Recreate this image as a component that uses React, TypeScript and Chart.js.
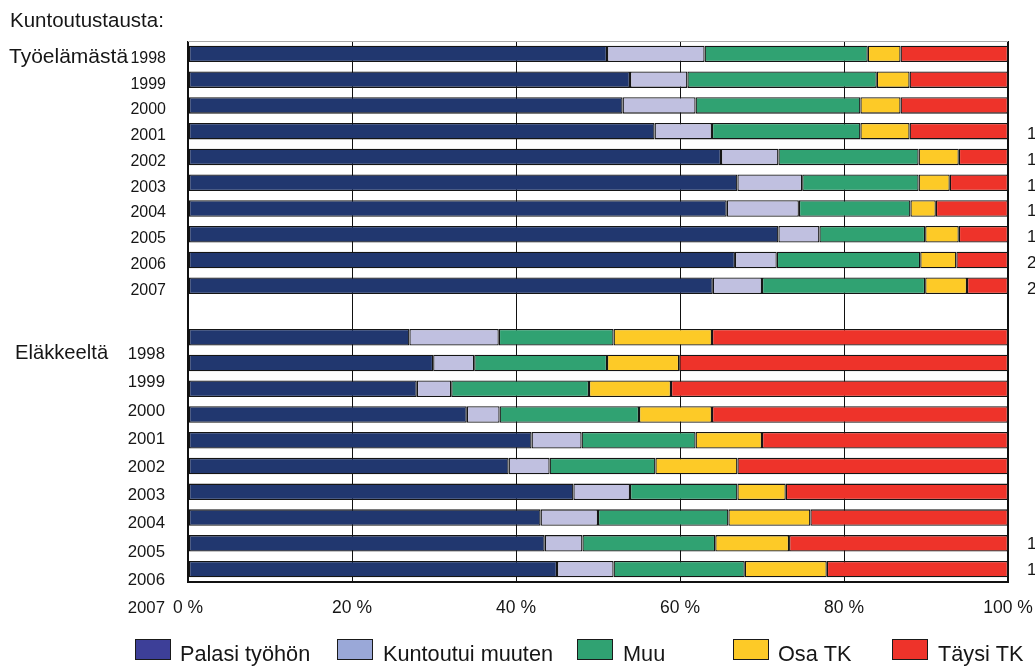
import React, { useEffect, useRef } from 'react';
import { Chart, registerables } from 'chart.js';

Chart.register(...registerables);

// ---------- data ----------
const titleText = 'Kuntoutustausta:';
const groupNames = ['Työelämästä', 'Eläkkeeltä'];
const years = ['1998', '1999', '2000', '2001', '2002', '2003', '2004', '2005', '2006', '2007'];
const categories = [
  ...years.map((y) => `${groupNames[0]} ${y}`),
  '',
  ...years.map((y) => `${groupNames[1]} ${y}`),
];
const seriesNames = ['Palasi työhön', 'Kuntoutui muuten', 'Muu', 'Osa TK', 'Täysi TK'];

// Työelämästä 1998–2007 (%)
const palasiTyo = [51.1, 53.9, 53.0, 56.9, 65.0, 67.0, 65.7, 72.0, 66.7, 64.0];
const kuntoutuiTyo = [11.9, 7.0, 8.9, 7.0, 7.0, 7.9, 8.8, 5.0, 5.1, 6.0];
const muuTyo = [19.9, 23.1, 20.1, 18.1, 17.1, 14.2, 13.6, 12.9, 17.5, 19.9];
const osaTyo = [4.0, 4.0, 4.9, 6.0, 4.9, 3.8, 3.1, 4.1, 4.4, 5.1];
const taysiTyo = [13.1, 12.0, 13.1, 12.0, 6.0, 7.1, 8.8, 6.0, 6.3, 5.0];

// Eläkkeeltä 1998–2007 (%)
const palasiElake = [27.0, 29.9, 27.9, 34.0, 41.9, 39.1, 47.0, 43.0, 43.5, 45.0];
const kuntoutuiElake = [10.9, 5.0, 4.2, 4.0, 6.1, 5.0, 6.9, 7.0, 4.6, 6.9];
const muuElake = [14.0, 16.2, 16.8, 17.0, 13.9, 12.9, 13.1, 15.9, 16.2, 16.0];
const osaElake = [12.0, 8.8, 10.0, 8.9, 8.1, 10.0, 5.9, 10.0, 9.0, 10.0];
const taysiElake = [36.1, 40.1, 41.1, 36.1, 30.0, 33.0, 27.1, 24.1, 26.7, 22.1];

// clipped labels at the right edge
const rightLabelsTyo = ['', '', '', '1', '1', '1', '1', '1', '2', '2'];
const rightLabelsElake = ['', '', '', '', '', '', '', '', '1', '1'];

const xTickStep = 20;

// ---------- styles ----------
const barColors = ['#21376f', '#c0c0e0', '#30a272', '#fdca27', '#ee332a'];
const legendColors = ['#3d3f98', '#9aa8d8', '#30a272', '#fdca27', '#ee332a'];
const FONT = '"Liberation Sans", Arial, Helvetica, sans-serif';
const TEXT = '#161616';
const legendBoxX = [135, 337, 577, 733, 892];
const legendTextX = [180, 383, 623, 778, 938];

const join = (a: number[], b: number[]) => [...a, null, ...b];

const textPlugin = {
  id: 'textPlugin',
  afterDraw(chart: any) {
    const { ctx, chartArea } = chart;
    const yS = chart.scales.y;
    ctx.save();
    ctx.fillStyle = TEXT;
    ctx.textBaseline = 'alphabetic';

    // top thin border line
    ctx.strokeStyle = '#a8a8a8';
    ctx.lineWidth = 1;
    ctx.beginPath();
    ctx.moveTo(chartArea.left, chartArea.top + 0.5);
    ctx.lineTo(chartArea.right, chartArea.top + 0.5);
    ctx.stroke();

    // title
    ctx.textAlign = 'left';
    ctx.font = `20.5px ${FONT}`;
    ctx.fillText(titleText, 10, 27);

    // group 1
    ctx.font = `21px ${FONT}`;
    ctx.fillText(groupNames[0], 9, yS.getPixelForValue(0) + 9);
    ctx.textAlign = 'right';
    ctx.font = `16px ${FONT}`;
    years.forEach((yr, i) => ctx.fillText(yr, 166, yS.getPixelForValue(i) + 9));

    // group 2 (labels drift downwards as in the original)
    const base = yS.getPixelForValue(11) + 22;
    const step = 28.2;
    ctx.textAlign = 'left';
    ctx.font = `20.2px ${FONT}`;
    ctx.fillText(groupNames[1], 15, base);
    ctx.textAlign = 'right';
    ctx.font = `16.8px ${FONT}`;
    years.forEach((yr, i) => ctx.fillText(yr, 165, base + i * step));

    // clipped right labels
    ctx.textAlign = 'left';
    ctx.font = `17px ${FONT}`;
    rightLabelsTyo.forEach((t, i) => {
      if (t) ctx.fillText(t, 1027, yS.getPixelForValue(i) + 8);
    });
    rightLabelsElake.forEach((t, i) => {
      if (t) ctx.fillText(t, 1027, yS.getPixelForValue(11 + i) + 6);
    });

    // legend
    ctx.font = `21.7px ${FONT}`;
    seriesNames.forEach((name, i) => {
      ctx.fillStyle = legendColors[i];
      ctx.fillRect(legendBoxX[i], 639, 36, 21);
      ctx.strokeStyle = '#1a1a1a';
      ctx.lineWidth = 1;
      ctx.strokeRect(legendBoxX[i] + 0.5, 639.5, 35, 20);
      ctx.fillStyle = TEXT;
      ctx.fillText(name, legendTextX[i], 661);
    });
    ctx.restore();
  },
};

export default function App() {
  const ref = useRef<HTMLCanvasElement | null>(null);

  useEffect(() => {
    if (!ref.current) return;
    const series = [
      join(palasiTyo, palasiElake),
      join(kuntoutuiTyo, kuntoutuiElake),
      join(muuTyo, muuElake),
      join(osaTyo, osaElake),
      join(taysiTyo, taysiElake),
    ];
    const chart = new Chart(ref.current, {
      type: 'bar',
      data: {
        labels: categories,
        datasets: series.map((d, i) => ({
          label: seriesNames[i],
          data: d,
          backgroundColor: barColors[i],
          borderColor: '#151515',
          borderWidth: 1.3,
          borderSkipped: false,
          categoryPercentage: 1,
          barPercentage: 0.64,
        })),
      },
      options: {
        indexAxis: 'y',
        responsive: false,
        maintainAspectRatio: false,
        animation: false,
        layout: { padding: { left: 188, right: 27, top: 41, bottom: 47 } },
        plugins: {
          legend: { display: false },
          tooltip: { enabled: false },
          title: { display: false },
        },
        scales: {
          x: {
            type: 'linear',
            stacked: true,
            min: 0,
            max: 100,
            ticks: {
              stepSize: xTickStep,
              padding: 16,
              color: TEXT,
              font: { family: FONT, size: 17.5 },
              callback: (v: any) => `${v} %`,
            },
            grid: {
              color: '#111',
              lineWidth: (c: any) => (c.tick && (c.tick.value === 0 || c.tick.value === 100) ? 2 : 1),
              drawTicks: false,
            },
            border: { display: true, color: '#111', width: 2 },
            afterFit: (s: any) => {
              s.height = 40;
              s.paddingLeft = 0;
              s.paddingRight = 0;
            },
          },
          y: {
            type: 'category',
            stacked: true,
            display: false,
          },
        },
      },
      plugins: [textPlugin],
    } as any);
    return () => chart.destroy();
  }, []);

  return (
    <div style={{ position: 'absolute', left: 0, top: 0, width: 1035, height: 669, background: '#fff' }}>
      <canvas ref={ref} width={1035} height={669} style={{ display: 'block' }} />
    </div>
  );
}
